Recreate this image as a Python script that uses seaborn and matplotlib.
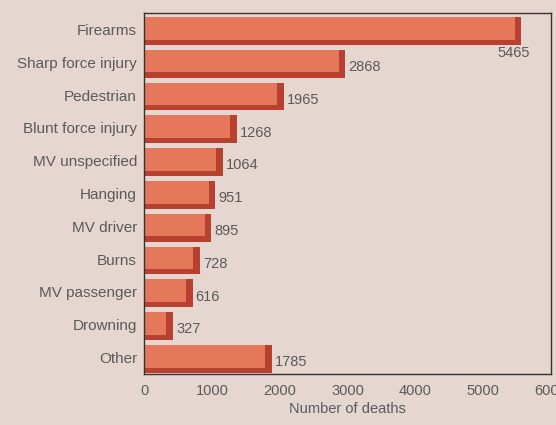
# Horizontal bar chart of deaths by cause, with a shaded "3D" edge on each bar.

import pandas as pd
import matplotlib.pyplot as plt
import seaborn as sns

causes = ['Firearms', 'Sharp force injury', 'Pedestrian', 'Blunt force injury',
          'MV unspecified', 'Hanging', 'MV driver', 'Burns', 'MV passenger',
          'Drowning', 'Other']
deaths = [5465, 2868, 1965, 1268, 1064, 951, 895, 728, 616, 327, 1785]
x_ticks = [0, 1000, 2000, 3000, 4000, 5000, 6000]

df = pd.DataFrame({'Cause': causes, 'Deaths': deaths})

bg = '#e6d6d0'
face = '#e5785b'
shade = '#b7402f'
text_col = '#5a5a5a'

sns.set_style('white')
plt.rcParams['font.family'] = ['Liberation Sans', 'DejaVu Sans']

fig = plt.figure(figsize=(5.56, 4.25), dpi=100, facecolor=bg)
ax = fig.add_axes([0.259, 0.12, 0.732, 0.849])
ax.set_facecolor(bg)

# dark back bar (the extruded side), then the lighter front face on top
sns.barplot(data=df, x='Deaths', y='Cause', orient='h', color=shade,
            width=0.85, saturation=1, linewidth=0, ax=ax)
n_dark = len(ax.patches)
sns.barplot(data=df, x='Deaths', y='Cause', orient='h', color=face,
            width=0.85, saturation=1, linewidth=0, ax=ax)

depth = 100  # length of the shaded extrusion, in data units
for p in ax.patches[:n_dark]:
    p.set_y(p.get_y() + 0.04)
    p.set_width(p.get_width() + depth)
for p in ax.patches[n_dark:]:
    p.set_y(p.get_y() + 0.04)
    p.set_height(p.get_height() - 0.16)

# value labels
for i, v in enumerate(deaths):
    if i == 0:
        ax.text(v - 10, i + 0.72, str(v), ha='center', va='center',
                fontsize=10.5, color=text_col)
    else:
        ax.text(v + depth + 45, i + 0.14, str(v), ha='left', va='center',
                fontsize=10.5, color=text_col)

ax.set_xlim(0, 6000)
ax.set_ylim(len(causes) - 0.5, -0.5)
ax.set_xticks(x_ticks)
ax.set_xticklabels([str(t) for t in x_ticks], fontsize=10.5, color=text_col)
ax.set_yticks(range(len(causes)))
ax.set_yticklabels(causes, fontsize=11, color=text_col)
ax.set_xlabel('Number of deaths', fontsize=10.5, color=text_col, labelpad=3)
ax.set_ylabel('')

# tick marks on the y axis sit between the bars
ax.set_yticks([i + 0.5 for i in range(-1, len(causes))], minor=True)
ax.tick_params(axis='y', which='major', length=0, pad=5)
ax.tick_params(axis='y', which='minor', length=3, direction='out', color='#333333')
ax.tick_params(axis='x', length=4, direction='inout', color='#333333', pad=5)

for s in ax.spines.values():
    s.set_visible(True)
    s.set_color('#333333')
    s.set_linewidth(1.0)

plt.savefig('out.png', dpi=100, facecolor=bg)
plt.close()
